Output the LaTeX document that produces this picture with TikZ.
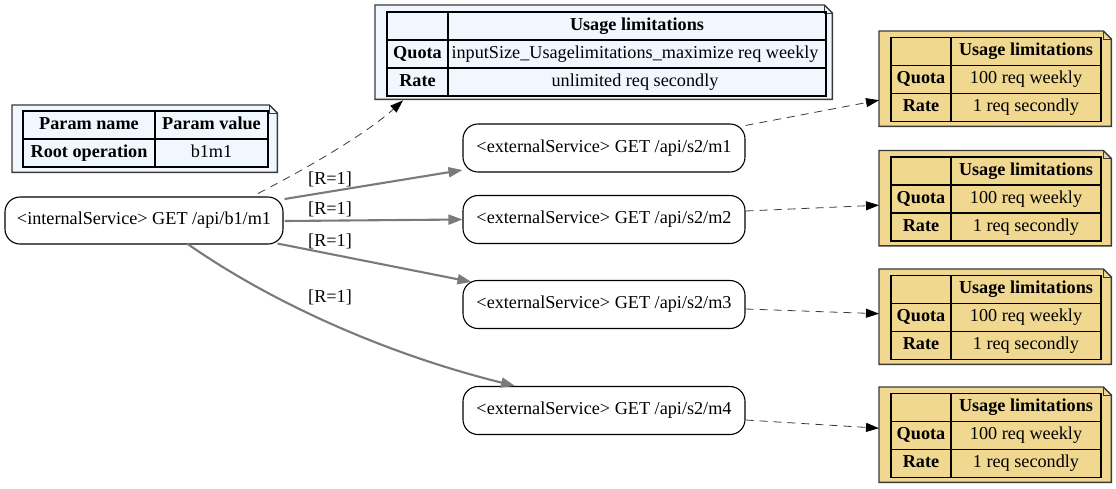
\documentclass[tikz,border=0pt]{standalone}
\usepackage{fontspec}
\setmainfont{Liberation Serif}
\usetikzlibrary{arrows.meta,calc}
\definecolor{noteblue}{HTML}{F0F7FF}
\definecolor{notetan}{HTML}{F0D890}
\definecolor{edgegray}{HTML}{7A7A7A}
\definecolor{notebord}{HTML}{3A3A3A}
\newcommand\fs{\fontsize{18.2pt}{22pt}\selectfont}
\tikzset{
  svc/.style={draw=black, line width=1.1pt, rounded corners=15pt, minimum width=282pt, minimum height=48pt, inner sep=0pt, font=\fs, text height=12.5pt, text depth=4pt},
  notebox/.style={inner sep=0pt, draw=none},
  cell/.style={inner sep=0pt, font=\fs, text height=12.5pt, text depth=4pt},
  hcell/.style={cell, font=\fs\bfseries},
  tline/.style={draw=black, line width=1.2pt},
  flow/.style={draw=edgegray, line width=2.1pt, -{Triangle[length=14pt,width=10pt]}},
  anno/.style={draw=notebord, line width=0.8pt, dash pattern=on 8pt off 6pt, -{Triangle[length=13pt,width=9pt,fill=black,color=black]}},
  lbl/.style={cell},
}
\newcommand\drawnote[2]{%
  \fill[#2] (#1.north west) -- ([xshift=-8pt]#1.north east) -- ([yshift=-8pt]#1.north east) -- (#1.south east) -- (#1.south west) -- cycle;
  \draw[notebord, line width=1.4pt] (#1.north west) -- ([xshift=-8pt]#1.north east) -- ([yshift=-8pt]#1.north east) -- (#1.south east) -- (#1.south west) -- cycle;
  \draw[notebord, line width=0.7pt] ([xshift=-8pt]#1.north east) -- ([xshift=-8pt,yshift=-8pt]#1.north east) -- ([yshift=-8pt]#1.north east);
}
\newcommand\usagenote[2]{%
  \begin{scope}[shift={(879,#2)}]
    \node[notebox, minimum width=232pt, minimum height=95pt, anchor=north west] (#1) at (0,0) {};
    \drawnote{#1}{notetan}
    \draw[tline] (12,6.5) rectangle (222,90.5);
    \draw[tline] (72,6.5) -- (72,90.5);
    \draw[tline] (12,34.5) -- (222,34.5);
    \draw[tline] (12,62.5) -- (222,62.5);
    \node[hcell] (#1h) at (147,20.5) {Usage limitations};
    \node[hcell] (#1qk) at (42,48.5) {Quota};
    \node[cell] (#1qv) at (147,48.5) {100 req weekly};
    \node[hcell] (#1rk) at (42,76.5) {Rate};
    \node[cell] (#1rv) at (147,76.5) {1 req secondly};
  \end{scope}
}
\begin{document}
\begin{tikzpicture}[x=1pt,y=-1pt]
\useasboundingbox (0,0) rectangle (1116,488);
\fill[white] (0,0) rectangle (1116,488);

% top note
\node[notebox, minimum width=457pt, minimum height=94pt, anchor=north west] (tn) at (375,5) {};
\drawnote{tn}{noteblue}
\draw[tline] (387,12) rectangle (826,96);
\draw[tline] (448,12) -- (448,96);
\draw[tline] (387,40) -- (826,40);
\draw[tline] (387,68) -- (826,68);
\node[hcell] (tnh) at (637,26) {Usage limitations};
\node[hcell] (tnqk) at (417.5,54) {Quota};
\node[cell] (tnqv) at (635,54) {inputSize\_Usagelimitations\_maximize req weekly};
\node[hcell] (tnrk) at (417.5,82) {Rate};
\node[cell] (tnrv) at (635,82) {unlimited req secondly};

% left note
\node[notebox, minimum width=265pt, minimum height=67pt, anchor=north west] (pn) at (12,105) {};
\drawnote{pn}{noteblue}
\draw[tline] (23,111) rectangle (268,167);
\draw[tline] (155,111) -- (155,167);
\draw[tline] (23,139) -- (268,139);
\node[hcell] (pnh1) at (89,125) {Param name};
\node[hcell] (pnh2) at (211.5,125) {Param value};
\node[hcell] (pnk) at (89,153) {Root operation};
\node[cell] (pnv) at (211.5,153) {b1m1};

% right notes
\usagenote{na}{31}
\usagenote{nb}{150.5}
\usagenote{nc}{269}
\usagenote{nd}{387}

% service nodes
\node[svc, minimum width=278pt, minimum height=47pt] (int) at (144,220.5) {<internalService> GET /api/b1/m1};
\node[svc] (m1) at (604,148) {<externalService> GET /api/s2/m1};
\node[svc] (m2) at (604,219.5) {<externalService> GET /api/s2/m2};
\node[svc] (m3) at (604,304.5) {<externalService> GET /api/s2/m3};
\node[svc] (m4) at (604,410.5) {<externalService> GET /api/s2/m4};

% flows
\draw[flow] ([xshift=1pt,yshift=21.5pt]int.east) -- ([yshift=-22pt]m1.west);
\draw[flow] ([xshift=1pt,yshift=-0.5pt]int.east) -- (m2.west);
\draw[flow] ([xshift=-6pt,yshift=1pt]int.south east) -- ([xshift=9pt,yshift=-2pt]m3.north west);
\draw[flow] ([xshift=43pt,yshift=1pt]int.south) .. controls (275,305) and (390,355) .. ([xshift=-89pt]m4.north);

\node[lbl] (l1) at (330,180) {[R=1]};
\node[lbl] (l2) at (330,210) {[R=1]};
\node[lbl] (l3) at (330,242) {[R=1]};
\node[lbl] (l4) at (330,298) {[R=1]};

% annotations
\draw[anno] ([xshift=114pt,yshift=3pt]int.north) .. controls (300,172) and (365,135) .. ([xshift=28pt,yshift=-1pt]tn.south west);
\draw[anno] ([yshift=-2pt]m1.north east) -- ([yshift=-21.5pt]na.west);
\draw[anno] ([yshift=8.5pt]m2.east) -- ([yshift=-7pt]nb.west);
\draw[anno] ([yshift=-4.5pt]m3.east) -- ([yshift=3pt]nc.west);
\draw[anno] ([yshift=-9.5pt]m4.east) -- ([yshift=6.5pt]nd.west);
\end{tikzpicture}
\end{document}
